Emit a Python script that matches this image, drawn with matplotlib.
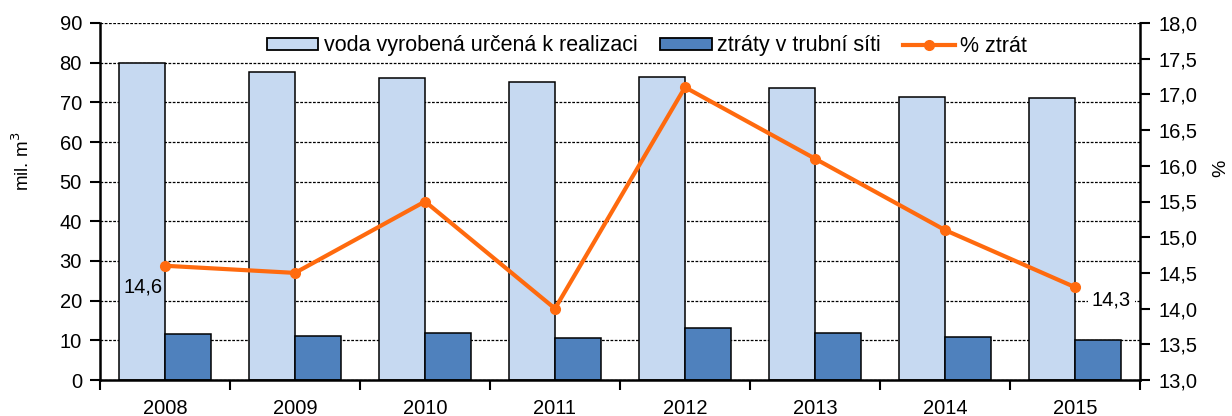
import matplotlib
matplotlib.use("Agg")
import matplotlib.pyplot as plt
import numpy as np
from matplotlib.ticker import FuncFormatter, MultipleLocator, FixedLocator
from matplotlib.patches import Patch
from matplotlib.lines import Line2D

plt.rcParams['font.family'] = ['Liberation Sans', 'DejaVu Sans']

years = ['2008', '2009', '2010', '2011', '2012', '2013', '2014', '2015']
voda_realizace = [80.0, 77.7, 76.2, 75.2, 76.4, 73.7, 71.4, 71.1]
ztraty = [11.6, 11.1, 11.8, 10.6, 13.1, 11.8, 10.8, 10.1]
pct_ztrat = [14.6, 14.5, 15.5, 14.0, 17.1, 16.1, 15.1, 14.3]

c_light = '#C6D9F1'
c_dark = '#4F81BD'
c_line = '#FF6A0E'

W, H = 1232, 416
fig = plt.figure(figsize=(W/100, H/100), dpi=100)
ax = fig.add_axes([100/W, 1-380/H, 1040/W, 357/H])
x = np.arange(len(years))
w = 0.354
ax.bar(x - w/2, voda_realizace, w, color=c_light, edgecolor='black', linewidth=1.1, zorder=2)
ax.bar(x + w/2, ztraty, w, color=c_dark, edgecolor='black', linewidth=1.1, zorder=2)
ax.set_xlim(-0.5, len(years) - 0.5)
ax.set_ylim(0, 90)
ax.yaxis.set_major_locator(MultipleLocator(10))
ax.grid(axis='y', color='black', linestyle=(0, (2.2, 1.2)), linewidth=0.9, zorder=0)
ax.set_axisbelow(True)
ax.set_xticks(x)
ax.set_xticklabels(years)
ax.xaxis.set_minor_locator(FixedLocator(np.arange(-0.5, len(years), 1.0)))
ax.tick_params(axis='x', which='major', length=0, labelsize=14.5, pad=14)
ax.tick_params(axis='x', which='minor', length=7, width=1.5, direction='out')
ax.tick_params(axis='y', length=7, width=1.5, direction='out', labelsize=14.5, pad=6)
for s in ['left', 'bottom']:
    ax.spines[s].set_linewidth(1.8)
ax.spines['top'].set_visible(False)
ax.spines['right'].set_visible(False)

ax2 = ax.twinx()
ax2.plot(x, pct_ztrat, color=c_line, linewidth=3, marker='o', markersize=7, zorder=5)
ax2.set_ylim(13.0, 18.0)
ax2.yaxis.set_major_locator(MultipleLocator(0.5))
ax2.yaxis.set_major_formatter(FuncFormatter(lambda v, p: f'{v:.1f}'.replace('.', ',')))
ax2.tick_params(axis='y', length=7, width=1.5, direction='out', labelsize=14.5, pad=6)
ax2.spines['right'].set_linewidth(1.8)
ax2.spines['top'].set_visible(False)
ax2.spines['left'].set_visible(False)
ax2.spines['bottom'].set_visible(False)

fig.text(22/W, 1-161/H, 'mil. m$^3$', rotation=90, ha='center', va='center', fontsize=13.5)
fig.text(1221/W, 1-168/H, '%', rotation=90, ha='center', va='center', fontsize=14)

def fmt(v):
    return f'{v:.1f}'.replace('.', ',')

ax2.annotate(fmt(pct_ztrat[0]), (x[0], pct_ztrat[0]), xytext=(-16, -15), textcoords='offset points',
             ha='center', va='center', fontsize=14.5, zorder=6)
ax2.annotate(fmt(pct_ztrat[-1]), (x[-1], pct_ztrat[-1]), xytext=(26, -9), textcoords='offset points',
             ha='center', va='center', fontsize=14.5, zorder=6,
             bbox=dict(boxstyle='square,pad=0.2', fc='white', ec='none'))

handles = [Patch(facecolor=c_light, edgecolor='black', linewidth=1.3),
           Patch(facecolor=c_dark, edgecolor='black', linewidth=1.3),
           Line2D([0], [0], color=c_line, linewidth=3, marker='o', markersize=7)]
labels = ['voda vyrobená určená k realizaci', 'ztráty v trubní síti', '% ztrát']
fig.legend(handles, labels, loc='center', bbox_to_anchor=(647/W, 1-46/H), ncol=3,
           frameon=False, fontsize=15.5, handlelength=2.4, handleheight=0.5, handletextpad=0.25,
           columnspacing=1.05, borderpad=0.1)

fig.savefig('out.png', dpi=100)
